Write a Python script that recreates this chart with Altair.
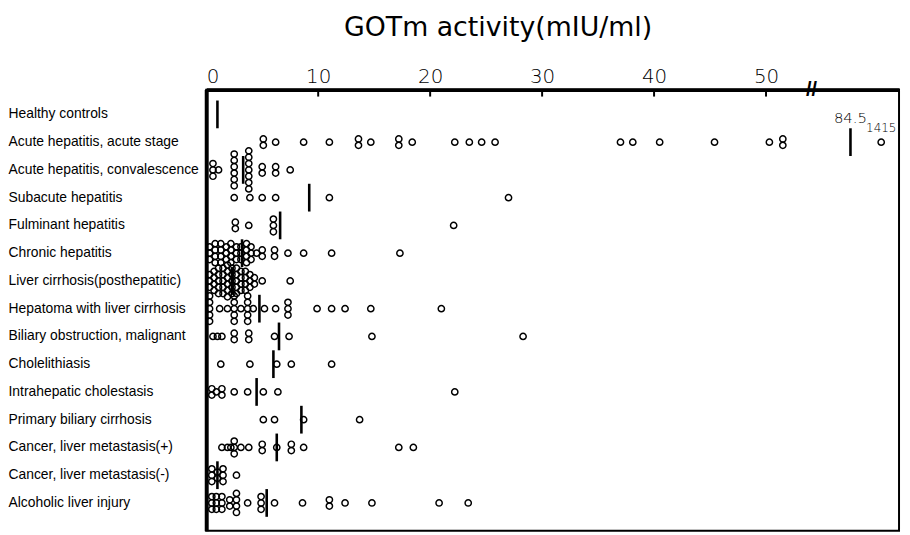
import altair as alt
import pandas as pd

rows = [
    "Healthy controls",
    "Acute hepatitis, acute stage",
    "Acute hepatitis, convalescence",
    "Subacute hepatitis",
    "Fulminant hepatitis",
    "Chronic hepatitis",
    "Liver cirrhosis(posthepatitic)",
    "Hepatoma with liver cirrhosis",
    "Biliary obstruction, malignant",
    "Cholelithiasis",
    "Intrahepatic cholestasis",
    "Primary biliary cirrhosis",
    "Cancer, liver metastasis(+)",
    "Cancer, liver metastasis(-)",
    "Alcoholic liver injury",
]

healthy = []
acute = [5.1, 5.1, 6.2, 8.7, 11.0, 13.6, 13.6, 14.7, 17.2, 17.2, 18.4, 22.2, 23.5,
         24.6, 25.8, 37.0, 38.1, 40.5, 45.4, 50.3, 51.5, 51.5, 1415]
convalescence = [0.6, 0.6, 0.6, 1.1, 2.5, 2.5, 2.5, 2.5, 2.5, 2.5,
                 3.8, 3.8, 3.8, 3.8, 3.8, 3.8, 3.8, 5.0, 5.0, 6.2, 6.2, 7.5]
subacute = [2.5, 3.9, 5.0, 6.2, 11.0, 27.0]
fulminant = [2.6, 2.6, 3.8, 6.0, 6.0, 6.0, 22.1]
chronic = [0.3, 0.3, 0.3, 0.8, 0.8, 0.8, 0.8, 1.3, 1.3, 1.3, 1.3, 1.8, 1.8, 1.8,
           2.2, 2.2, 2.2, 2.2, 2.7, 2.7, 2.7, 3.1, 3.1, 3.1, 3.6, 3.6, 3.6, 3.6,
           4.0, 4.0, 4.0, 4.5, 5.0, 5.0, 6.1, 6.1, 7.3, 8.7, 11.2, 17.3]
cirrhosis = [0.3, 0.3, 0.3, 0.7, 0.7, 0.7, 0.7, 1.1, 1.1, 1.1, 1.1, 1.1,
             1.5, 1.5, 1.5, 1.5, 1.5, 1.9, 1.9, 1.9, 1.9, 1.9, 1.9,
             2.3, 2.3, 2.3, 2.3, 2.3, 2.7, 2.7, 2.7, 2.7, 2.7,
             3.1, 3.1, 3.1, 3.1, 3.5, 3.5, 3.5, 3.5, 3.9, 3.9, 3.9,
             4.3, 4.3, 5.0, 7.5]
hepatoma = [0.3, 0.3, 0.3, 0.3, 0.3, 1.2, 1.9, 2.5, 2.5, 2.5, 2.5, 2.5, 3.1,
            3.7, 3.7, 3.7, 3.7, 3.7, 4.2, 5.2, 6.2, 7.3, 7.3, 7.3, 9.9, 11.2,
            12.4, 14.7, 21.0]
biliary = [0.6, 1.0, 1.4, 2.5, 2.5, 3.8, 3.8, 6.1, 7.4, 14.8, 28.3]
cholelithiasis = [1.3, 3.9, 6.3, 7.6, 11.2]
intrahepatic = [0.5, 0.5, 0.9, 1.4, 1.4, 2.5, 3.7, 5.1, 6.4, 22.2]
pbc = [5.1, 6.1, 8.7, 13.7]
meta_pos = [1.4, 1.9, 2.2, 2.5, 2.5, 2.5, 3.1, 3.8, 5.0, 5.0, 6.3, 7.6, 7.6,
            8.7, 17.2, 18.5]
meta_neg = [0.5, 0.5, 0.5, 1.0, 1.0, 1.5, 1.5, 1.5, 2.7]
alcoholic = [0.5, 0.5, 0.5, 0.9, 0.9, 0.9, 1.4, 1.4, 1.4, 2.1, 2.1, 2.7, 2.7,
             2.7, 2.7, 3.7, 4.9, 4.9, 4.9, 6.1, 8.6, 11.0, 11.0, 12.4, 14.8,
             20.8, 23.4]

values_by_row = [healthy, acute, convalescence, subacute, fulminant, chronic,
                 cirrhosis, hepatoma, biliary, cholelithiasis, intrahepatic,
                 pbc, meta_pos, meta_neg, alcoholic]

means = [1.0, 84.5, 3.3, 9.2, 6.6, 3.2, 2.3, 4.75, 6.5, 6.0, 4.5, 8.5, 6.3, 1.0, 5.4]

tick_values = [0, 10, 20, 30, 40, 50]
break_at = [54.6]
annot_row = "Acute hepatitis, acute stage"
annot_values = [84.5, 1415]
annot_text = ["84.5", "1415"]

pts = pd.DataFrame([{"row": r, "value": v}
                    for r, vals in zip(rows, values_by_row) for v in vals])
mean_df = pd.DataFrame({"row": rows, "mean": means})
tick_df = pd.DataFrame({"t": tick_values})
break_df = pd.DataFrame({"b": break_at})
annot_df = pd.DataFrame({"row": [annot_row] * 2, "v": annot_values, "label": annot_text})

xscale = alt.Scale(domain=[0, 54, 84.5, 1415, 2000], range=[0, 610, 650, 681, 699],
                   nice=False, zero=False)
yscale = alt.Scale(type="band", domain=rows, paddingInner=0, paddingOuter=0.446, align=0.44)

points = alt.Chart(pts).transform_window(
    idx="row_number()", groupby=["row", "value"]
).transform_joinaggregate(
    n="count()", groupby=["row", "value"]
).transform_calculate(
    off="(datum.idx - (datum.n + 1) / 2) * 6.4"
).mark_point(shape="circle", filled=False, size=40, strokeWidth=1.5,
             color="black", opacity=1).encode(
    x=alt.X("value:Q", scale=xscale,
            axis=alt.Axis(orient="top", values=tick_values, title=None, ticks=False,
                          grid=False, domainWidth=4, domainColor="black",
                          labelFontSize=20, labelFont="DejaVu Sans",
                          labelFontWeight=200,
                          labelColor="black", labelPadding=3)),
    y=alt.Y("row:N", scale=yscale, sort=rows,
            axis=alt.Axis(title=None, ticks=False, tickSize=0, grid=False,
                          domainWidth=4, domainColor="black",
                          labelAlign="left", labelPadding=200, labelLimit=0,
                          labelFontSize=14, labelFont="Liberation Sans",
                          labelColor="black")),
    yOffset=alt.YOffset("off:Q", scale=alt.Scale(domain=[-14, 14])),
)

mean_ticks = alt.Chart(mean_df).mark_tick(color="black", thickness=2.6, size=28,
                                          opacity=1).encode(
    x=alt.X("mean:Q", scale=xscale),
    y=alt.Y("row:N", scale=yscale, sort=rows),
)

axis_ticks = alt.Chart(tick_df).mark_rule(color="black", strokeWidth=2).encode(
    x=alt.X("t:Q", scale=xscale),
    y=alt.value(0),
    y2=alt.value(7),
)

break_mark = alt.Chart(break_df).mark_text(
    text="//", fontSize=20, fontWeight="bold", color="black", dy=0
).encode(
    x=alt.X("b:Q", scale=xscale),
    y=alt.value(0),
)

annot_mean = alt.Chart(annot_df).transform_filter("datum.v < 100").mark_text(
    fontSize=15, font="DejaVu Sans", fontWeight=200, color="black", dy=-24
).encode(
    x=alt.X("v:Q", scale=xscale),
    y=alt.Y("row:N", scale=yscale, sort=rows),
    text="label:N",
)

annot_out = alt.Chart(annot_df).transform_filter("datum.v > 100").mark_text(
    fontSize=12, font="DejaVu Sans", fontWeight=200, color="black", dy=-14
).encode(
    x=alt.X("v:Q", scale=xscale),
    y=alt.Y("row:N", scale=yscale, sort=rows),
    text="label:N",
)

chart = alt.layer(points, mean_ticks, axis_ticks, break_mark, annot_mean, annot_out).properties(
    width=699,
    height=445,
    autosize=alt.AutoSizeParams(type="none"),
    padding={"left": 200, "top": 80, "right": 3, "bottom": 2},
    title=alt.TitleParams("GOTm activity(mIU/ml)", fontSize=27, font="DejaVu Sans",
                          fontWeight="normal", color="black", anchor="middle",
                          dx=-55, offset=25),
).configure_view(stroke="black", strokeWidth=2)

chart.save("out.html", embed_options={"renderer": "svg", "actions": False})
